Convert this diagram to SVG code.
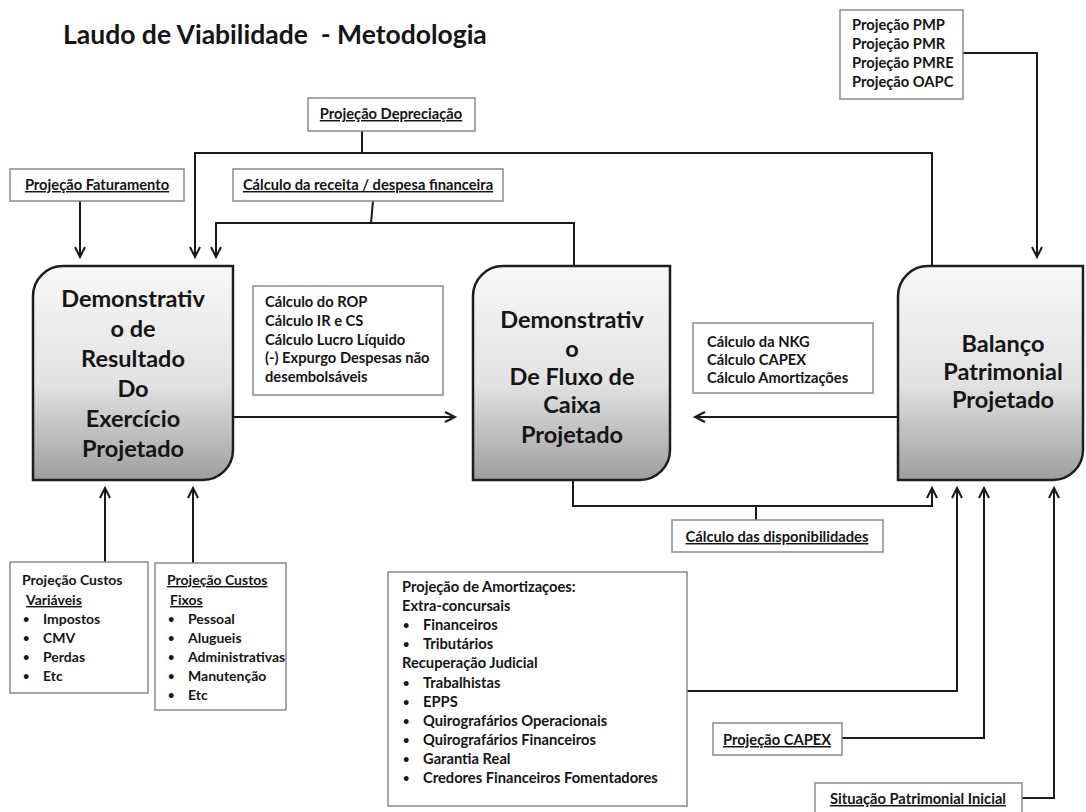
<svg xmlns="http://www.w3.org/2000/svg" width="1086" height="812" viewBox="0 0 1086 812">
<defs>
<linearGradient id="g" x1="0" y1="0" x2="0" y2="1">
<stop offset="0" stop-color="#f8f8f8"/>
<stop offset="0.55" stop-color="#e2e2e2"/>
<stop offset="1" stop-color="#9e9e9e"/>
</linearGradient>
<marker id="ah" markerUnits="userSpaceOnUse" markerWidth="14" markerHeight="14" refX="11" refY="6" orient="auto">
<path d="M1,1 L11,6 L1,11" fill="none" stroke="#1a1a1a" stroke-width="2"/>
</marker>
<style>
text{font-family:Lato,"Open Sans","Liberation Sans",sans-serif;font-weight:700;fill:#151515}
.t{font-size:26.5px}
.big{font-size:23.5px;text-anchor:middle}
.s{font-size:14.7px}
.m{font-size:14px}
.b{font-size:11px}
.c{text-anchor:middle}
.u{text-decoration:underline}
.bx{fill:#fff;stroke:#8a8a8a;stroke-width:1.5}
.nd{fill:url(#g);stroke:#1e1e1e;stroke-width:2.5}
.ln{fill:none;stroke:#1a1a1a;stroke-width:2}
</style>
</defs>
<rect width="1086" height="812" fill="#fff"/>
<text class="t" x="63" y="44" xml:space="preserve">Laudo de Viabilidade  - Metodologia</text>

<g id="connectors">
<path class="ln" d="M80 201 V257" marker-end="url(#ah)"/>
<path class="ln" d="M362 131 V153"/>
<path class="ln" d="M932 266 V153 H195 V257" marker-end="url(#ah)"/>
<path class="ln" d="M373 201 L371 223"/>
<path class="ln" d="M574 266 V223 H216 V257" marker-end="url(#ah)"/>
<path class="ln" d="M233 417 H455" marker-end="url(#ah)"/>
<path class="ln" d="M898 417 H695" marker-end="url(#ah)"/>
<path class="ln" d="M963 53 H1037 V257" marker-end="url(#ah)"/>
<path class="ln" d="M573 480 V506 H932 V488" marker-end="url(#ah)"/>
<path class="ln" d="M756 506 V520"/>
<path class="ln" d="M105 562 V488" marker-end="url(#ah)"/>
<path class="ln" d="M193 563 V488" marker-end="url(#ah)"/>
<path class="ln" d="M687 691 H957 V488" marker-end="url(#ah)"/>
<path class="ln" d="M842 738 H984 V488" marker-end="url(#ah)"/>
<path class="ln" d="M1022 798 H1054 V488" marker-end="url(#ah)"/>
</g>

<g id="dre">
<path class="nd" d="M63 266 H233 V450 A30 30 0 0 1 203 480 H33 V296 A30 30 0 0 1 63 266 Z"/>
<text class="big" x="133" y="307">Demonstrativ</text>
<text class="big" x="133" y="337">o de</text>
<text class="big" x="133" y="367">Resultado</text>
<text class="big" x="133" y="397">Do</text>
<text class="big" x="133" y="427">Exercício</text>
<text class="big" x="133" y="457">Projetado</text>
</g>

<g id="dfc">
<path class="nd" d="M503 266 H670 V450 A30 30 0 0 1 640 480 H473 V296 A30 30 0 0 1 503 266 Z"/>
<text class="big" x="572" y="328">Demonstrativ</text>
<text class="big" x="572" y="357">o</text>
<text class="big" x="572" y="385">De Fluxo de</text>
<text class="big" x="572" y="413">Caixa</text>
<text class="big" x="572" y="443">Projetado</text>
</g>

<g id="bpp">
<path class="nd" d="M928 266 H1083 V450 A30 30 0 0 1 1053 480 H898 V296 A30 30 0 0 1 928 266 Z"/>
<text class="big" x="1003" y="352">Balanço</text>
<text class="big" x="1003" y="380">Patrimonial</text>
<text class="big" x="1003" y="408">Projetado</text>
</g>

<g id="pmp">
<rect class="bx" x="840" y="10" width="123" height="89"/>
<text class="s" x="852" y="30">Projeção PMP</text>
<text class="s" x="852" y="49">Projeção PMR</text>
<text class="s" x="852" y="68">Projeção PMRE</text>
<text class="s" x="852" y="87">Projeção OAPC</text>
</g>

<g id="depreciacao">
<rect class="bx" x="308" y="98" width="167" height="33"/>
<text class="s c u" x="391" y="119">Projeção Depreciação</text>
</g>

<g id="faturamento">
<rect class="bx" x="10" y="169" width="174" height="32"/>
<text class="s c u" x="97" y="190">Projeção Faturamento</text>
</g>

<g id="receita">
<rect class="bx" x="233" y="169" width="270" height="32"/>
<text class="s c u" x="368" y="190">Cálculo da receita / despesa financeira</text>
</g>

<g id="rop">
<rect class="bx" x="253" y="286" width="190" height="109"/>
<text class="s" x="265" y="307">Cálculo do ROP</text>
<text class="s" x="265" y="326">Cálculo IR e CS</text>
<text class="s" x="265" y="345">Cálculo Lucro Líquido</text>
<text class="s" x="265" y="363">(-) Expurgo Despesas não</text>
<text class="s" x="265" y="382">desembolsáveis</text>
</g>

<g id="nkg">
<rect class="bx" x="693" y="323" width="180" height="70"/>
<text class="s" x="707" y="347">Cálculo da NKG</text>
<text class="s" x="707" y="365">Cálculo CAPEX</text>
<text class="s" x="707" y="383">Cálculo Amortizações</text>
</g>

<g id="disponibilidades">
<rect class="bx" x="672" y="520" width="211" height="32"/>
<text class="s c u" x="777" y="542">Cálculo das disponibilidades</text>
</g>

<g id="custos-variaveis">
<rect class="bx" x="10" y="562" width="138" height="131"/>
<text class="m" x="22" y="585">Projeção Custos</text>
<text class="m u" x="26" y="605">Variáveis</text>
<text class="b" x="23" y="623">•</text><text class="m" x="43" y="624">Impostos</text>
<text class="b" x="23" y="642">•</text><text class="m" x="43" y="643">CMV</text>
<text class="b" x="23" y="661">•</text><text class="m" x="43" y="662">Perdas</text>
<text class="b" x="23" y="680">•</text><text class="m" x="43" y="681">Etc</text>
</g>

<g id="custos-fixos">
<rect class="bx" x="155" y="563" width="131" height="147"/>
<text class="m u" x="167" y="585">Projeção Custos</text>
<text class="m u" x="170" y="605">Fixos</text>
<text class="b" x="168" y="623">•</text><text class="m" x="188" y="624">Pessoal</text>
<text class="b" x="168" y="642">•</text><text class="m" x="188" y="643">Alugueis</text>
<text class="b" x="168" y="661">•</text><text class="m" x="188" y="662">Administrativas</text>
<text class="b" x="168" y="680">•</text><text class="m" x="188" y="681">Manutenção</text>
<text class="b" x="168" y="699">•</text><text class="m" x="188" y="700">Etc</text>
</g>

<g id="amortizacoes">
<rect class="bx" x="388" y="572" width="299" height="234"/>
<text class="s" x="402" y="592">Projeção de Amortizaçoes:</text>
<text class="s" x="402" y="611">Extra-concursais</text>
<text class="b" x="403" y="629">•</text><text class="s" x="423" y="630">Financeiros</text>
<text class="b" x="403" y="648">•</text><text class="s" x="423" y="649">Tributários</text>
<text class="s" x="402" y="668">Recuperação Judicial</text>
<text class="b" x="403" y="687">•</text><text class="s" x="423" y="688">Trabalhistas</text>
<text class="b" x="403" y="706">•</text><text class="s" x="423" y="707">EPPS</text>
<text class="b" x="403" y="725">•</text><text class="s" x="423" y="726">Quirografários Operacionais</text>
<text class="b" x="403" y="744">•</text><text class="s" x="423" y="745">Quirografários Financeiros</text>
<text class="b" x="403" y="763">•</text><text class="s" x="423" y="764">Garantia Real</text>
<text class="b" x="403" y="782">•</text><text class="s" x="423" y="783">Credores Financeiros Fomentadores</text>
</g>

<g id="capex">
<rect class="bx" x="713" y="723" width="129" height="32"/>
<text class="s c u" x="777" y="745">Projeção CAPEX</text>
</g>

<g id="situacao">
<rect class="bx" x="815" y="783" width="207" height="34"/>
<text class="s c u" x="918" y="804">Situação Patrimonial Inicial</text>
</g>
</svg>
